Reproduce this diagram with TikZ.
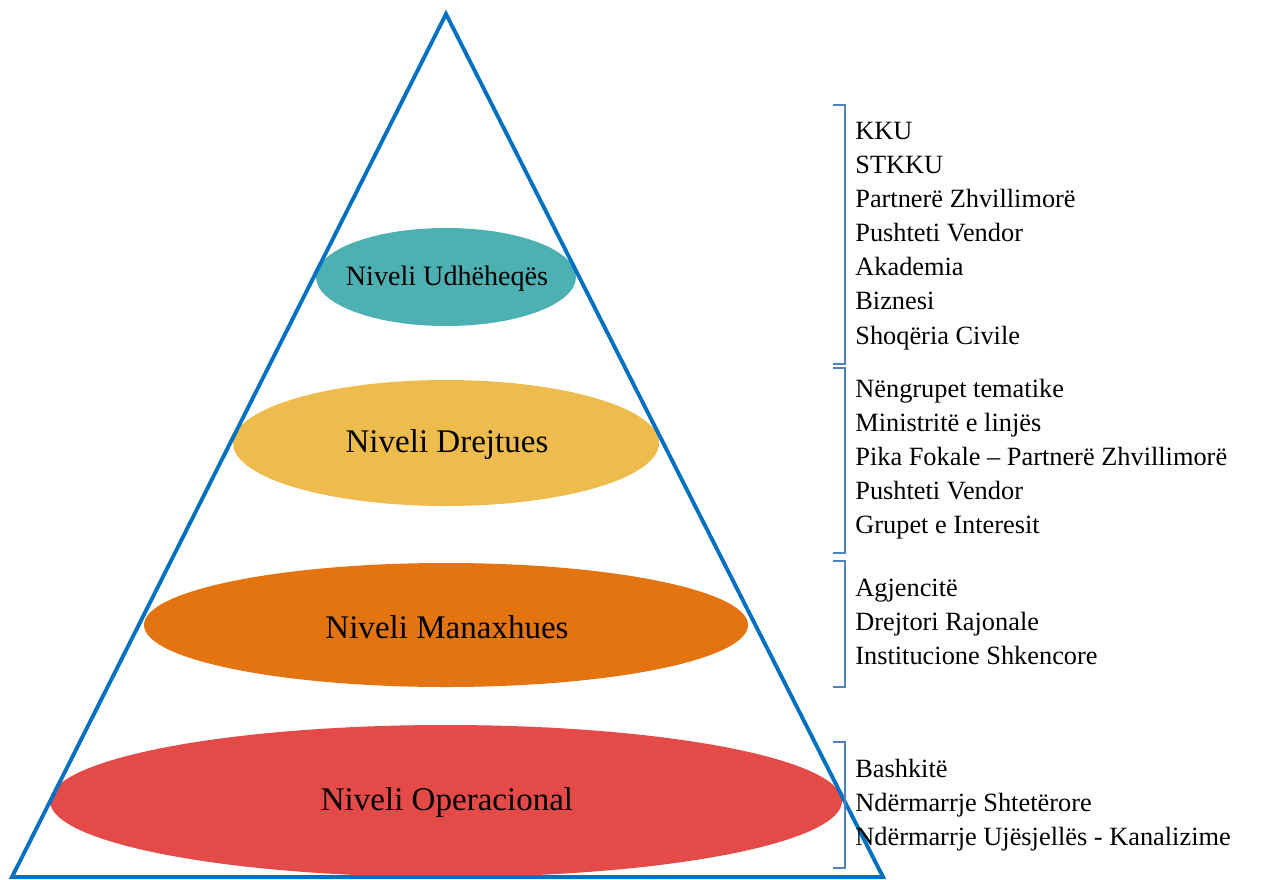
\documentclass[tikz,border=0pt]{standalone}
\usepackage{fontspec}
\setmainfont{Liberation Serif}
\usetikzlibrary{shapes.geometric}
\definecolor{pyramidblue}{RGB}{0,112,192}
\definecolor{bracketblue}{RGB}{79,129,189}
\definecolor{levelteal}{RGB}{77,176,178}
\definecolor{levelyellow}{RGB}{238,188,76}
\definecolor{levelorange}{RGB}{227,116,16}
\definecolor{levelred}{RGB}{228,74,72}
\tikzset{
	levellabel/.style={font=\fontsize{18.8}{22}\selectfont},
	memberlist/.style={anchor=west, inner sep=0pt, align=left, font=\fontsize{15}{19.4}\selectfont},
	bracket/.style={color=bracketblue, line width=0.6pt}
}
\def\rightbracket(#1:#2){\draw[bracket] (833, #1) -- (845, #1) -- (845, #2) -- (833, #2);}

\begin{document}
\begin{tikzpicture}[x=0.02cm, y=-0.02cm]
			%%%%% START %%%%%
			\useasboundingbox (0, 0) rectangle (1261, 879);
			
			\fill[levelteal] (446, 277) ellipse (130 and 49);
			\fill[levelyellow] (446, 443) ellipse (213 and 63);
			\fill[levelorange] (446, 625) ellipse (302 and 62);
			\fill[levelred] (446, 801) ellipse (396 and 76);
			
			\draw[color=pyramidblue, line width=2.2pt, line join=miter] (446, 14) -- (883, 877) -- (12, 877) -- cycle;
			
			\node[levellabel, font=\fontsize{16}{19}\selectfont] (udheheqes) at (447, 279) {Niveli Udhëheqës};
			\node[levellabel] (drejtues) at (447, 445) {Niveli Drejtues};
			\node[levellabel] (manaxhues) at (447, 627) {Niveli Manaxhues};
			\node[levellabel] (operacional) at (447, 803) {Niveli Operacional};
			
			\rightbracket(105:364)
			\rightbracket(368:553)
			\rightbracket(561:687)
			\rightbracket(742:868)
			
			\node[memberlist] (listudheheqes) at (855, 236) {KKU\\STKKU\\Partnerë Zhvillimorë\\Pushteti Vendor\\Akademia\\Biznesi\\Shoqëria Civile};
			\node[memberlist] (listdrejtues) at (855, 459) {Nëngrupet tematike\\Ministritë e linjës\\Pika Fokale – Partnerë Zhvillimorë\\Pushteti Vendor\\Grupet e Interesit};
			\node[memberlist] (listmanaxhues) at (855, 622) {Agjencitë\\Drejtori Rajonale\\Institucione Shkencore};
			\node[memberlist] (listoperacional) at (855, 805) {Bashkitë\\Ndërmarrje Shtetërore\\Ndërmarrje Ujësjellës - Kanalizime};
			
			%%%%% END %%%%%
\end{tikzpicture}
\end{document}
